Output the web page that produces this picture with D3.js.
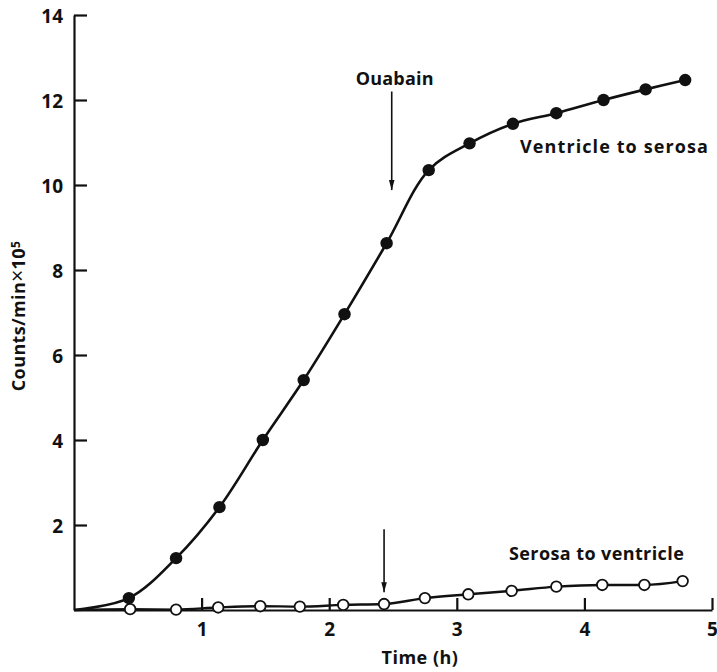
<!DOCTYPE html>
<html>
<head>
<meta charset="utf-8">
<script src="https://cdn.jsdelivr.net/npm/d3@7"></script>
<style>
  html, body { margin: 0; padding: 0; background: #fff; }
  svg { display: block; }
  text { font-family: "Open Sans", "DejaVu Sans", sans-serif; font-weight: 700; fill: #111; }
</style>
</head>
<body>
<svg id="chart" width="717" height="672"></svg>
<script>
// ---- data (time in h, counts/min ×10^5) ----
const ventTime   = [0, 0.43, 0.80, 1.14, 1.48, 1.80, 2.12, 2.45, 2.78, 3.10, 3.44, 3.78, 4.15, 4.48, 4.79];
const ventCounts = [0, 0.28, 1.22, 2.42, 4.00, 5.41, 6.96, 8.63, 10.35, 10.98, 11.44, 11.69, 12.00, 12.25, 12.47];
const seroTime   = [0, 0.44, 0.80, 1.13, 1.46, 1.77, 2.11, 2.43, 2.75, 3.09, 3.43, 3.78, 4.14, 4.47, 4.77];
const seroCounts = [0, 0.02, 0.01, 0.06, 0.09, 0.08, 0.12, 0.14, 0.28, 0.37, 0.45, 0.55, 0.59, 0.59, 0.68];
const xTicks = [1, 2, 3, 4, 5];
const yTicks = [2, 4, 6, 8, 10, 12, 14];
// annotation arrows: [time, from value, to value]
const ouabainArrow = [2.49, 12.2, 9.88];
const seroArrow    = [2.43, 1.9, 0.42];

const svg = d3.select("#chart");
const x = d3.scaleLinear().domain([0, 5]).range([74, 712]);
const y = d3.scaleLinear().domain([0, 14]).range([610, 15]);

svg.append("defs").append("marker")
  .attr("id", "head").attr("viewBox", "0 0 10 10")
  .attr("refX", 10).attr("refY", 5)
  .attr("markerWidth", 10).attr("markerHeight", 10)
  .attr("markerUnits", "userSpaceOnUse")
  .attr("orient", "auto")
  .append("path").attr("d", "M0,2.2 L10,5 L0,7.8 Z").attr("fill", "#111");

// axes
const gy = svg.append("g").attr("transform", `translate(${x(0)},0)`)
  .call(d3.axisLeft(y).tickValues(yTicks).tickSize(-13).tickSizeOuter(0).tickPadding(11).tickFormat(d3.format("d")));
const gx = svg.append("g").attr("transform", `translate(0,${y(0)})`)
  .call(d3.axisBottom(x).tickValues(xTicks).tickSize(-12).tickSizeOuter(0).tickPadding(13).tickFormat(d3.format("d")));
[gy, gx].forEach(g => {
  g.select(".domain").attr("stroke", "#111").attr("stroke-width", 2.2);
  g.selectAll(".tick line").attr("stroke", "#111").attr("stroke-width", 2.2);
  g.selectAll(".tick text").style("font-size", "19px").attr("fill", "#111");
});
gy.selectAll(".tick text").attr("dy", "0.42em");

svg.append("text").attr("x", 420).attr("y", 664).attr("text-anchor", "middle")
  .style("font-size", "18px").style("letter-spacing", "0.5px").text("Time (h)");

const yl = svg.append("text").attr("transform", "translate(25,316) rotate(-90)")
  .attr("text-anchor", "middle").style("font-size", "18px").style("letter-spacing", "0.4px");
yl.append("tspan").text("Counts/min");
yl.append("tspan").style("font-size", "21px").style("font-weight", "400").text("×");
yl.append("tspan").text("10");
yl.append("tspan").attr("dy", "-0.45em").style("font-size", "12px").text("5");

// lines
const ventData = ventTime.map((t, i) => [t, ventCounts[i]]);
const seroData = seroTime.map((t, i) => [t, seroCounts[i]]);

svg.append("path").datum(ventData)
  .attr("d", d3.line().x(d => x(d[0])).y(d => y(d[1])).curve(d3.curveCatmullRom.alpha(0.5)))
  .attr("fill", "none").attr("stroke", "#111").attr("stroke-width", 2.6);
svg.append("path").datum(seroData)
  .attr("d", d3.line().x(d => x(d[0])).y(d => y(d[1])).curve(d3.curveMonotoneX))
  .attr("fill", "none").attr("stroke", "#111").attr("stroke-width", 2.4);

svg.selectAll(".vdot").data(ventData.slice(1)).join("circle")
  .attr("cx", d => x(d[0])).attr("cy", d => y(d[1])).attr("r", 6.2).attr("fill", "#111");
svg.selectAll(".sdot").data(seroData.slice(1)).join("circle")
  .attr("cx", d => x(d[0])).attr("cy", d => y(d[1])).attr("r", 5.3)
  .attr("fill", "#fff").attr("stroke", "#111").attr("stroke-width", 1.8);

// arrows
[ouabainArrow, seroArrow].forEach(a => {
  svg.append("line").attr("x1", x(a[0])).attr("x2", x(a[0]))
    .attr("y1", y(a[1])).attr("y2", y(a[2]))
    .attr("stroke", "#111").attr("stroke-width", 1.6).attr("marker-end", "url(#head)");
});

svg.append("text").attr("x", x(ouabainArrow[0]) + 3).attr("y", 85).attr("text-anchor", "middle")
  .style("font-size", "18px").style("letter-spacing", "0.2px").text("Ouabain");
svg.append("text").attr("x", 520).attr("y", 153).style("font-size", "18px").style("letter-spacing", "1.1px").text("Ventricle to serosa");
svg.append("text").attr("x", 509).attr("y", 560).style("font-size", "18px").style("letter-spacing", "0.4px").text("Serosa to ventricle");
</script>
</body>
</html>
